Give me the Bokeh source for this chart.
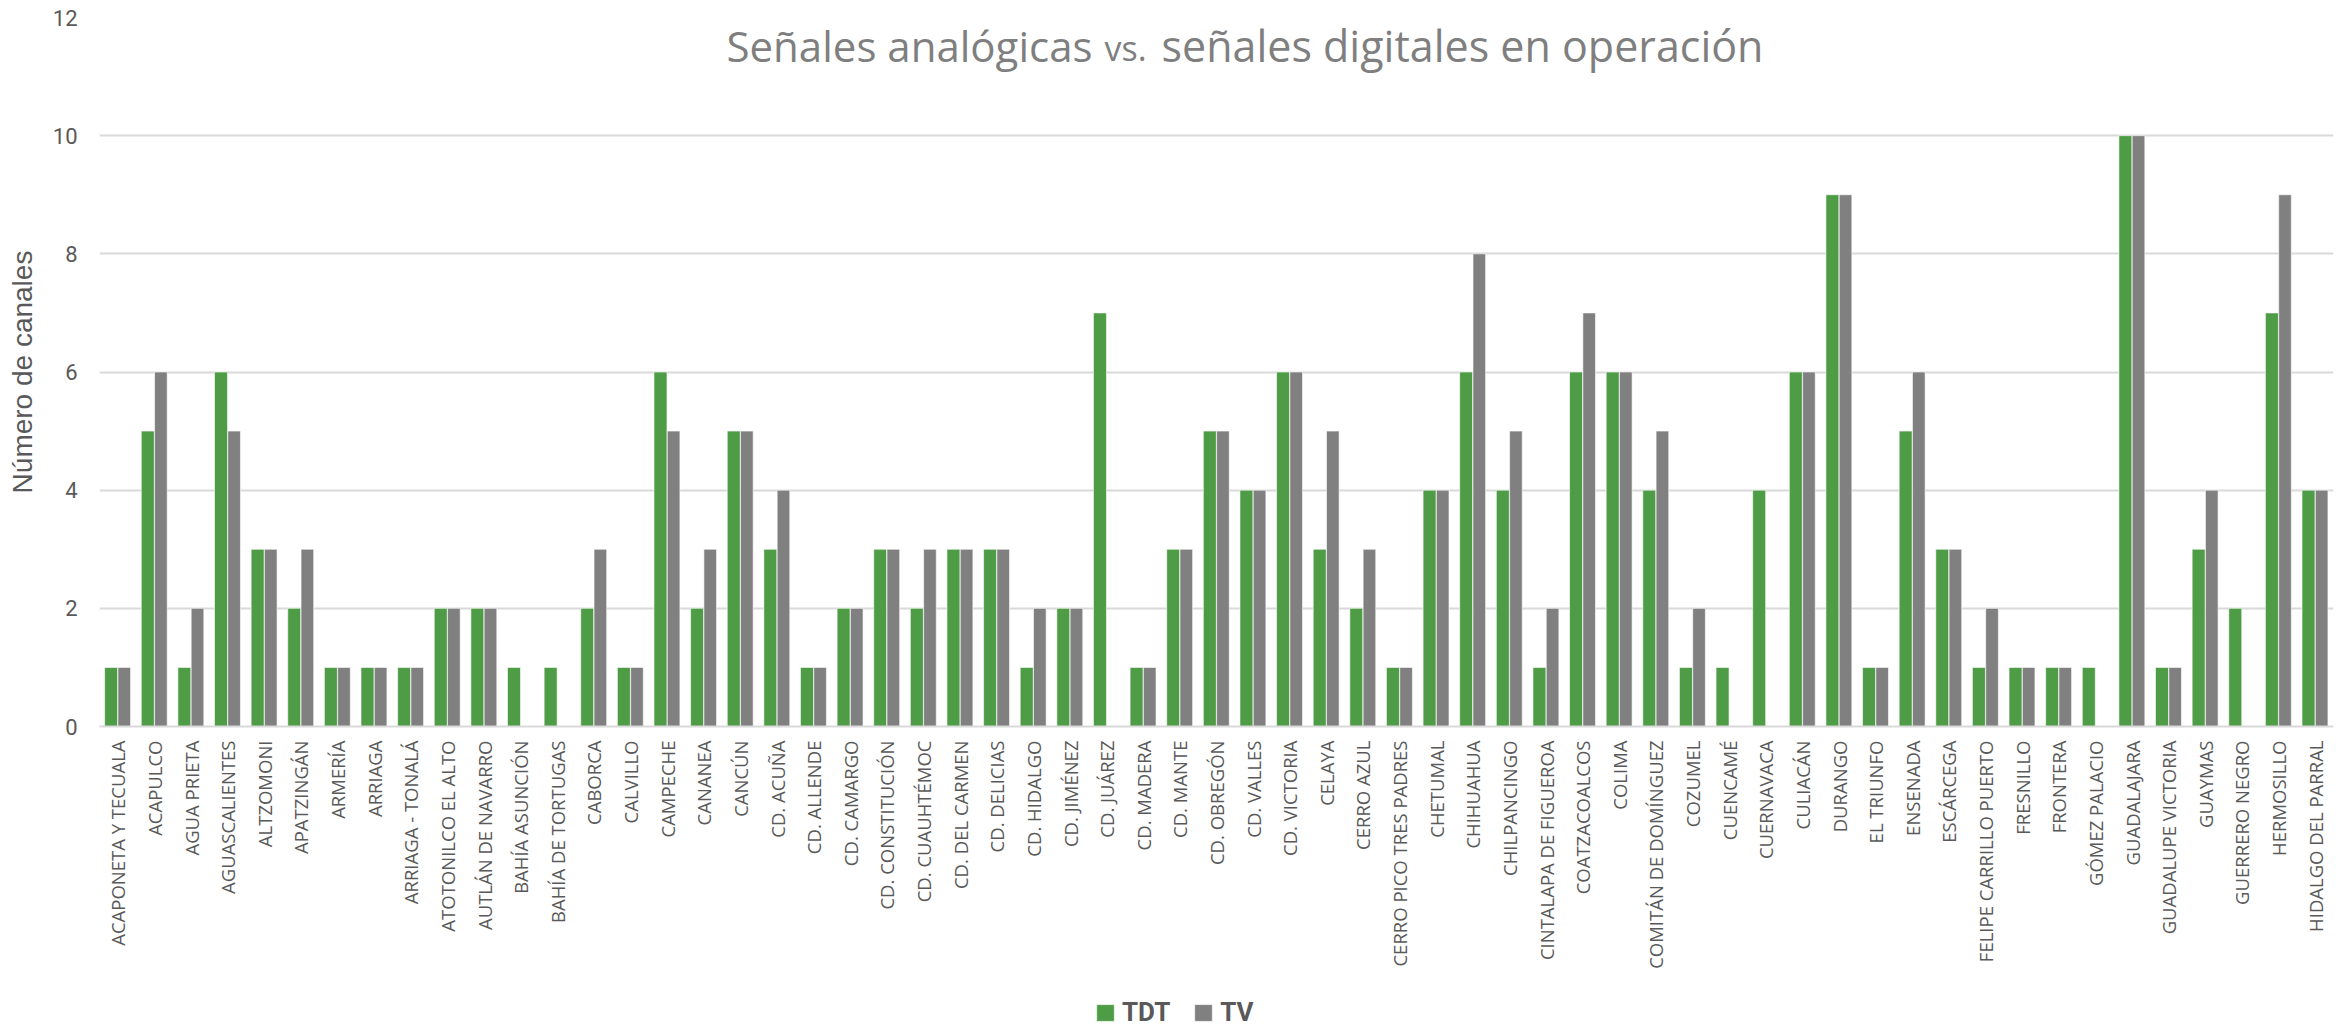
import math
from bokeh.plotting import figure
from bokeh.layouts import column
from bokeh.models import (ColumnDataSource, Label, Legend, LegendItem, FixedTicker,
                          Range1d, FactorRange)
from bokeh.transform import dodge
from bokeh.embed import file_html
from bokeh.resources import INLINE

categories = [
    "ACAPONETA Y TECUALA", "ACAPULCO", "AGUA PRIETA", "AGUASCALIENTES", "ALTZOMONI",
    "APATZINGÁN", "ARMERÍA", "ARRIAGA", "ARRIAGA - TONALÁ", "ATOTONILCO EL ALTO",
    "AUTLÁN DE NAVARRO", "BAHÍA ASUNCIÓN", "BAHÍA DE TORTUGAS", "CABORCA", "CALVILLO",
    "CAMPECHE", "CANANEA", "CANCÚN", "CD. ACUÑA", "CD. ALLENDE", "CD. CAMARGO",
    "CD. CONSTITUCIÓN", "CD. CUAUHTÉMOC", "CD. DEL CARMEN", "CD. DELICIAS", "CD. HIDALGO",
    "CD. JIMÉNEZ", "CD. JUÁREZ", "CD. MADERA", "CD. MANTE", "CD. OBREGÓN", "CD. VALLES",
    "CD. VICTORIA", "CELAYA", "CERRO AZUL", "CERRO PICO TRES PADRES", "CHETUMAL",
    "CHIHUAHUA", "CHILPANCINGO", "CINTALAPA DE FIGUEROA", "COATZACOALCOS", "COLIMA",
    "COMITÁN DE DOMÍNGUEZ", "COZUMEL", "CUENCAMÉ", "CUERNAVACA", "CULIACÁN", "DURANGO",
    "EL TRIUNFO", "ENSENADA", "ESCÁRCEGA", "FELIPE CARRILLO PUERTO", "FRESNILLO",
    "FRONTERA", "GÓMEZ PALACIO", "GUADALAJARA", "GUADALUPE VICTORIA", "GUAYMAS",
    "GUERRERO NEGRO", "HERMOSILLO", "HIDALGO DEL PARRAL",
]
tdt = [1, 5, 1, 6, 3, 2, 1, 1, 1, 2, 2, 1, 1, 2, 1, 6, 2, 5, 3, 1, 2, 3, 2, 3, 3, 1, 2, 7,
       1, 3, 5, 4, 6, 3, 2, 1, 4, 6, 4, 1, 6, 6, 4, 1, 1, 4, 6, 9, 1, 5, 3, 1, 1, 1, 1, 10,
       1, 3, 2, 7, 4]
tv = [1, 6, 2, 5, 3, 3, 1, 1, 1, 2, 2, 0, 0, 3, 1, 5, 3, 5, 4, 1, 2, 3, 3, 3, 3, 2, 2, 0,
      1, 3, 5, 4, 6, 5, 3, 1, 4, 8, 5, 2, 7, 6, 5, 2, 0, 0, 6, 9, 1, 6, 3, 2, 1, 1, 0, 10,
      1, 4, 0, 9, 4]
y_ticks = [0, 2, 4, 6, 8, 10, 12]
series_names = ["TDT", "TV"]
title_parts = ["Señales analógicas", "vs.", "señales digitales en operación"]
y_label = "Número de canales"

GREEN = "#4e9c45"
GRAY = "#808080"
TXT = "#595959"
GRID = "#d9d9d9"

source = ColumnDataSource(dict(cat=categories, tdt=tdt, tv=tv))

MAIN_H = 995
p = figure(width=2351, height=MAIN_H, x_range=FactorRange(*categories, range_padding=0),
           y_range=Range1d(0, 12), output_backend="svg", toolbar_location=None,
           min_border_left=99, min_border_right=18, min_border_top=17,
           min_border_bottom=MAIN_H - 726)
p.outline_line_color = None
p.background_fill_color = "white"
p.border_fill_color = "white"

bar_style = dict(line_color="#ffffff", line_width=0.6)
r1 = p.vbar(x=dodge("cat", -0.182, range=p.x_range), top="tdt", width=0.355, bottom=0,
            source=source, fill_color=GREEN, **bar_style)
r2 = p.vbar(x=dodge("cat", 0.176, range=p.x_range), top="tv", width=0.345, bottom=0,
            source=source, fill_color=GRAY, **bar_style)

# axes
p.xgrid.grid_line_color = None
p.ygrid.grid_line_color = GRID
p.ygrid.grid_line_width = 2
p.yaxis.ticker = FixedTicker(ticks=y_ticks)
p.yaxis.axis_line_color = None
p.yaxis.major_tick_line_color = None
p.yaxis.minor_tick_line_color = None
p.yaxis.major_tick_out = 0
p.yaxis.major_tick_in = 0
p.yaxis.major_label_standoff = 22
p.yaxis.major_label_text_font = "Roboto"
p.yaxis.major_label_text_font_size = "22px"
p.yaxis.major_label_text_color = TXT
p.yaxis.axis_label = y_label
p.yaxis.axis_label_text_font = "Liberation Sans"
p.yaxis.axis_label_text_font_size = "28px"
p.yaxis.axis_label_text_font_style = "normal"
p.yaxis.axis_label_text_color = TXT
p.yaxis.axis_label_standoff = 12

p.xaxis.axis_line_color = GRID
p.xaxis.axis_line_width = 2
p.xaxis.major_tick_line_color = None
p.xaxis.minor_tick_line_color = None
p.xaxis.major_tick_out = 0
p.xaxis.major_tick_in = 0
p.xaxis.major_label_orientation = math.pi / 2
p.xaxis.major_label_standoff = 14
p.xaxis.major_label_text_font = "Open Sans"
p.xaxis.major_label_text_font_size = "18.5px"
p.xaxis.major_label_text_color = TXT

# title pieces (screen x relative to frame, y in data units)
t1 = Label(x=627, y=11.52, x_units="screen", y_units="data", text=title_parts[0],
           text_font="Open Sans", text_font_size="42px", text_color="#7f7f7f",
           text_baseline="alphabetic", text_align="left")
t2 = Label(x=1005, y=11.49, x_units="screen", y_units="data", text=title_parts[1],
           text_font="Open Sans", text_font_size="34px", text_color="#7f7f7f",
           text_baseline="alphabetic", text_align="left")
t3 = Label(x=1062, y=11.52, x_units="screen", y_units="data", text=title_parts[2],
           text_font="Open Sans", text_font_size="43px", text_color="#7f7f7f",
           text_baseline="alphabetic", text_align="left")
for t in (t1, t2, t3):
    p.add_layout(t)

# legend strip below the chart (same data; bars lie outside its visible range)
lf = figure(width=2351, height=1027 - MAIN_H, x_range=FactorRange(*categories, range_padding=0),
            y_range=Range1d(50, 51), output_backend="svg", toolbar_location=None,
            x_axis_location=None, y_axis_location=None, min_border=0)
lf.outline_line_color = None
lf.xgrid.grid_line_color = None
lf.ygrid.grid_line_color = None
l1 = lf.vbar(x=dodge("cat", -0.182, range=lf.x_range), top="tdt", width=0.355, bottom=0,
             source=source, fill_color=GREEN, **bar_style)
l2 = lf.vbar(x=dodge("cat", 0.176, range=lf.x_range), top="tv", width=0.345, bottom=0,
             source=source, fill_color=GRAY, **bar_style)
legend = Legend(items=[LegendItem(label=series_names[0], renderers=[l1]),
                       LegendItem(label=series_names[1], renderers=[l2])],
                location=(995, 0), orientation="horizontal",
                glyph_width=22, glyph_height=21, label_standoff=6, spacing=22,
                padding=0, margin=0, border_line_alpha=0, background_fill_alpha=0,
                label_text_font="Roboto", label_text_font_size="26px",
                label_text_font_style="bold", label_text_color=TXT,
                label_height=20)
lf.add_layout(legend, "center")

open("out.html", "w").write(file_html(column(p, lf, spacing=0), INLINE))
